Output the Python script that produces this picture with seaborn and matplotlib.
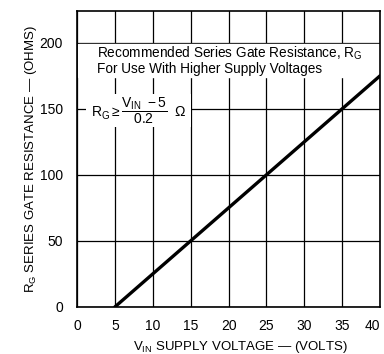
import matplotlib
matplotlib.use("Agg")
import matplotlib.pyplot as plt
import seaborn as sns
import pandas as pd

# Data
vin = [5, 40]
rg = [0, 175]
x_ticks = [0, 5, 10, 15, 20, 25, 30, 35, 40]
y_ticks = [0, 50, 100, 150, 200]

sns.set_theme(style="white")
plt.rcParams['font.family'] = ['Liberation Sans', 'DejaVu Sans']
plt.rcParams['mathtext.fontset'] = 'custom'
plt.rcParams['mathtext.rm'] = 'Liberation Sans'
plt.rcParams['mathtext.it'] = 'Liberation Sans'
plt.rcParams['mathtext.bf'] = 'Liberation Sans:bold'
plt.rcParams['text.color'] = 'black'
plt.rcParams['axes.labelcolor'] = 'black'
plt.rcParams['xtick.color'] = 'black'
plt.rcParams['ytick.color'] = 'black'

fig = plt.figure(figsize=(3.84, 3.54), dpi=100)
ax = fig.add_axes([0.2005, 0.133, 0.7895, 0.836])

df = pd.DataFrame({"vin": vin, "rg": rg})
sns.lineplot(data=df, x="vin", y="rg", ax=ax, color="black", linewidth=2.4, zorder=5)

ax.set_xlim(0, 40)
ax.set_ylim(0, 224)
ax.set_xticks(x_ticks)
ax.set_yticks(y_ticks)
ax.set_xticklabels([str(v) for v in x_ticks], fontsize=10)
ax.set_yticklabels([str(v) for v in y_ticks], fontsize=10)
ax.get_xticklabels()[-1].set_horizontalalignment("right")
ax.tick_params(axis='both', length=0)
ax.tick_params(axis='x', pad=9)
ax.tick_params(axis='y', pad=10)

for v in x_ticks:
    ax.axvline(v, color="black", linewidth=0.9, zorder=1)
for v in y_ticks:
    ax.axhline(v, color="black", linewidth=0.9, zorder=1)

for s in ax.spines.values():
    s.set_color("black")
    s.set_linewidth(1.2)

# white boxes behind the annotations
ax.axhspan(174, 199, xmin=0.003, xmax=0.997, color="white", zorder=2)
ax.fill_between([1.2, 15.0], 136, 161, color="white", zorder=2, linewidth=0)

ax.text(2.6, 186.5,
        "Recommended Series Gate Resistance, R$_{\\mathrm{G}}$\nFor Use With Higher Supply Voltages",
        fontsize=9.8, va="center", ha="left", linespacing=1.05, zorder=3)
ax.text(1.8, 148.5, r"R$_{\mathrm{G}}\geq\dfrac{\mathrm{V}_{\mathrm{IN}}\ -5}{0.2}\ \ \Omega$",
        fontsize=10, va="center", ha="left", zorder=3)

ax.set_xlabel(r"V$_{\mathrm{IN}}$ SUPPLY VOLTAGE — (VOLTS)", fontsize=9.5)
ax.xaxis.set_label_coords(0.54, -0.107)
ax.set_ylabel(r"R$_{\mathrm{G}}$ SERIES GATE RESISTANCE — (OHMS)", fontsize=9.5)
ax.yaxis.set_label_coords(-0.125, 0.5)

fig.savefig("out.png", dpi=100)
